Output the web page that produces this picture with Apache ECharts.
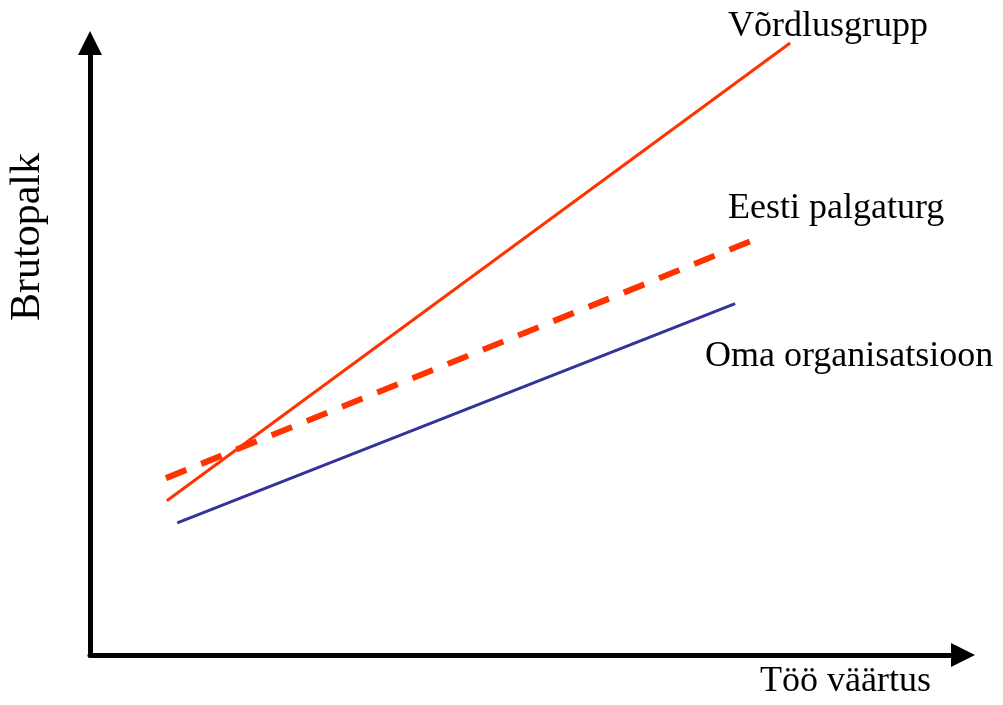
<!DOCTYPE html>
<html>
<head>
    <meta charset="utf-8" />
    <title>Brutopalk</title>
    <script src="https://cdn.jsdelivr.net/npm/echarts@6.0.0/dist/echarts.min.js"></script>
</head>
<body style="margin:0;background:#fff;">
    <div id="main" style="width: 1003px;height:705px;"></div>
    <script type="text/javascript">
        // andmed (telgede ühikud 0..100, skaalat pole näidatud)
        var vordlusX = [8.8, 80.2];
        var vordlusY = [25.2, 100];
        var eestiX = [8.7, 76.0];
        var eestiY = [28.9, 67.8];
        var omaX = [10.0, 73.9];
        var omaY = [21.6, 57.4];
        var seriesNames = ['Võrdlusgrupp', 'Eesti palgaturg', 'Oma organisatsioon'];
        var xName = 'Töö väärtus';
        var yName = 'Brutopalk';

        function pairs(xs, ys) {
            return xs.map(function (x, i) { return [x, ys[i]]; });
        }

        var font = '"Liberation Serif", "Times New Roman", serif';
        var myChart = echarts.init(document.getElementById('main'));

        function axisCommon() {
            return {
                type: 'value',
                min: 0,
                max: 100,
                axisLine: {
                    show: true,
                    onZero: false,
                    symbol: ['none', 'triangle'],
                    symbolSize: [24, 24],
                    lineStyle: { color: '#000', width: 5 }
                },
                axisTick: { show: false },
                axisLabel: { show: false },
                splitLine: { show: false }
            };
        }

        var option = {
            animation: false,
            grid: { left: 90, right: 40, top: 43, bottom: 50 },
            xAxis: axisCommon(),
            yAxis: axisCommon(),
            series: [{
                name: seriesNames[0],
                type: 'line',
                showSymbol: false,
                clip: false,
                data: pairs(vordlusX, vordlusY),
                lineStyle: { color: '#FF3300', width: 3 }
            }, {
                name: seriesNames[1],
                type: 'line',
                showSymbol: false,
                data: pairs(eestiX, eestiY),
                lineStyle: { color: '#FF3300', width: 6, type: [22, 16] }
            }, {
                name: seriesNames[2],
                type: 'line',
                showSymbol: false,
                data: pairs(omaX, omaY),
                lineStyle: { color: '#333399', width: 3 }
            }],
            graphic: [
                { type: 'text', left: 728, top: 9, style: { text: seriesNames[0], font: '36px ' + font, fill: '#000' } },
                { type: 'text', left: 728, top: 191, style: { text: seriesNames[1], font: '36px ' + font, fill: '#000' } },
                { type: 'text', left: 705, top: 339, style: { text: seriesNames[2], font: '36px ' + font, fill: '#000' } },
                { type: 'text', left: 760, top: 664, style: { text: xName, font: '36px ' + font, fill: '#000' } },
                {
                    type: 'text', x: 28, y: 237, rotation: Math.PI / 2,
                    style: { text: yName, font: '42px ' + font, fill: '#000', align: 'center', verticalAlign: 'middle' }
                }
            ]
        };

        myChart.setOption(option);
    </script>
</body>
</html>
